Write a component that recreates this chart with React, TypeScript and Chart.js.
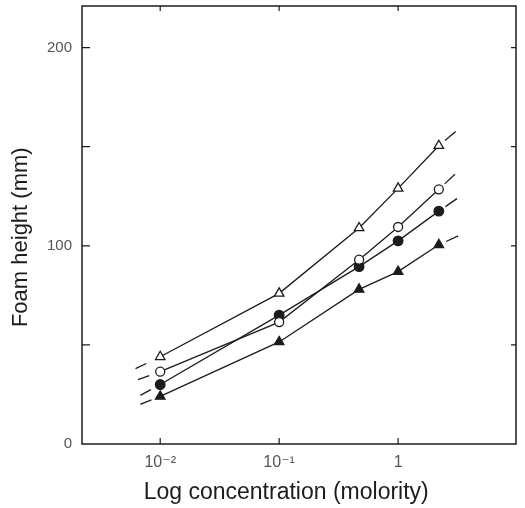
import React, { useEffect, useRef } from 'react';
import { Chart, registerables } from 'chart.js';

Chart.register(...registerables);

// ---- data ----
const concentrations = [0.01, 0.1, 0.47, 1, 2.2];
const seriesNames = ['Open triangles', 'Open circles', 'Filled circles', 'Filled triangles'];
const openTriangle = [44, 76, 109, 129, 150.5];
const openCircle = [36.5, 61.5, 93, 109.5, 128.5];
const filledCircle = [30, 65, 89.5, 102.5, 117.5];
const filledTriangle = [24, 51.5, 78, 87, 100.5];
// extrapolated (dashed) line ends for each series
const leftExtConc = [0.0062, 0.0065, 0.0068, 0.0068];
const leftExtValues = [38, 32.5, 24.5, 20];
const rightExtConc = [3.25, 3.25, 3.25, 3.2];
const rightExtValues = [159, 138, 124.5, 105];
// axes
const xTickValues = [0.01, 0.1, 1];
const xTickLabels = ['10\u207B\u00B2', '10\u207B\u00B9', '1'];
const yTickValues = [0, 50, 100, 150, 200];
const yTickLabels = ['0', '', '100', '', '200'];
const xTitle = 'Log concentration (molority)';
const yTitle = 'Foam height (mm)';

const INK = '#1c1c1c';
const FONT = '"Liberation Sans", Arial, "DejaVu Sans", sans-serif';

const framePlugin = {
  id: 'frameTicks',
  beforeDatasetsDraw(chart: any) {
    const { ctx, chartArea } = chart;
    const { left, right, top, bottom } = chartArea;
    const xs = chart.scales.x;
    const ys = chart.scales.y;
    ctx.save();
    ctx.strokeStyle = INK;
    ctx.lineWidth = 1.5;
    ctx.strokeRect(left, top, right - left, bottom - top);
    ctx.lineWidth = 1.2;
    ctx.beginPath();
    xs.ticks.forEach((t: any) => {
      const px = xs.getPixelForValue(t.value);
      ctx.moveTo(px, bottom);
      ctx.lineTo(px, bottom - 6);
      ctx.moveTo(px, top);
      ctx.lineTo(px, top + 5);
    });
    ys.ticks.forEach((t: any) => {
      const py = ys.getPixelForValue(t.value);
      if (t.value === 0) return;
      ctx.moveTo(left, py);
      ctx.lineTo(left + 8, py);
      ctx.moveTo(right, py);
      ctx.lineTo(right - 5, py);
    });
    ctx.stroke();
    ctx.restore();
  },
};

type Style = { pointStyle: string; fill: string; radius: number };
const styles: Style[] = [
  { pointStyle: 'triangle', fill: '#ffffff', radius: 5.5 },
  { pointStyle: 'circle', fill: '#ffffff', radius: 4.5 },
  { pointStyle: 'circle', fill: INK, radius: 4.8 },
  { pointStyle: 'triangle', fill: INK, radius: 5.5 },
];

export default function App() {
  const ref = useRef<HTMLCanvasElement | null>(null);

  useEffect(() => {
    if (!ref.current) return;
    const allValues = [openTriangle, openCircle, filledCircle, filledTriangle];
    const datasets = allValues.map((vals, i) => {
      const pts = [
        { x: leftExtConc[i], y: leftExtValues[i] },
        ...concentrations.map((c, j) => ({ x: c, y: vals[j] })),
        { x: rightExtConc[i], y: rightExtValues[i] },
      ];
      const n = pts.length;
      const st = styles[i];
      return {
        label: seriesNames[i],
        data: pts,
        borderColor: INK,
        borderWidth: 1.3,
        backgroundColor: st.fill,
        pointStyle: st.pointStyle,
        pointBackgroundColor: st.fill,
        pointBorderColor: INK,
        pointBorderWidth: 1.3,
        pointRadius: pts.map((_, k) => (k === 0 || k === n - 1 ? 0 : st.radius)),
        tension: 0,
        fill: false,
        segment: {
          borderDash: (c: any) =>
            c.p0DataIndex === 0 ? [12, 60] : c.p1DataIndex === n - 1 ? [14, 8] : undefined,
          borderDashOffset: (c: any) => (c.p1DataIndex === n - 1 ? 14 : undefined),
        },
      };
    });

    const chart = new Chart(ref.current, {
      type: 'line',
      data: { datasets },
      plugins: [framePlugin],
      options: {
        animation: false,
        responsive: false,
        maintainAspectRatio: false,
        devicePixelRatio: 1,
        events: [],
        layout: { padding: { top: 6, right: 9, left: 0, bottom: 0 } },
        plugins: { legend: { display: false }, tooltip: { enabled: false } },
        scales: {
          x: {
            type: 'logarithmic',
            min: 0.0022,
            max: 9.8,
            grid: { display: false, drawTicks: false },
            border: { display: false },
            afterBuildTicks: (s: any) => {
              s.ticks = xTickValues.map((v) => ({ value: v }));
            },
            afterFit: (s: any) => {
              s.height = 64;
              s.paddingLeft = 0;
              s.paddingRight = 0;
              s.paddingTop = 0;
              s.paddingBottom = 0;
            },
            ticks: {
              autoSkip: false,
              maxRotation: 0,
              padding: 9,
              color: '#555',
              font: { family: FONT, size: 16 },
              callback: (v: any) => {
                const idx = xTickValues.findIndex((t) => Math.abs(t - Number(v)) < 1e-9);
                return idx >= 0 ? xTickLabels[idx] : '';
              },
            },
            title: {
              display: true,
              text: xTitle + '    ',
              color: INK,
              font: { family: FONT, size: 23 },
              padding: { top: 0, bottom: 2 },
            },
          },
          y: {
            type: 'linear',
            min: 0,
            max: 221,
            grid: { display: false, drawTicks: false },
            border: { display: false },
            afterBuildTicks: (s: any) => {
              s.ticks = yTickValues.map((v) => ({ value: v }));
            },
            afterFit: (s: any) => {
              s.width = 82;
              s.paddingLeft = 0;
              s.paddingRight = 0;
              s.paddingTop = 0;
              s.paddingBottom = 0;
            },
            ticks: {
              autoSkip: false,
              padding: 10,
              color: '#555',
              font: { family: FONT, size: 15 },
              callback: (v: any) => {
                const idx = yTickValues.indexOf(Number(v));
                return idx >= 0 ? yTickLabels[idx] : '';
              },
            },
            title: {
              display: true,
              text: yTitle + '    ',
              color: INK,
              font: { family: FONT, size: 22 },
              padding: { top: 8, bottom: 0 },
            },
          },
        },
      },
    } as any);

    return () => chart.destroy();
  }, []);

  return (
    <div style={{ position: 'fixed', left: 0, top: 0, width: 525, height: 508, background: '#fff' }}>
      <canvas ref={ref} width={525} height={508} style={{ width: 525, height: 508, display: 'block' }} />
    </div>
  );
}
